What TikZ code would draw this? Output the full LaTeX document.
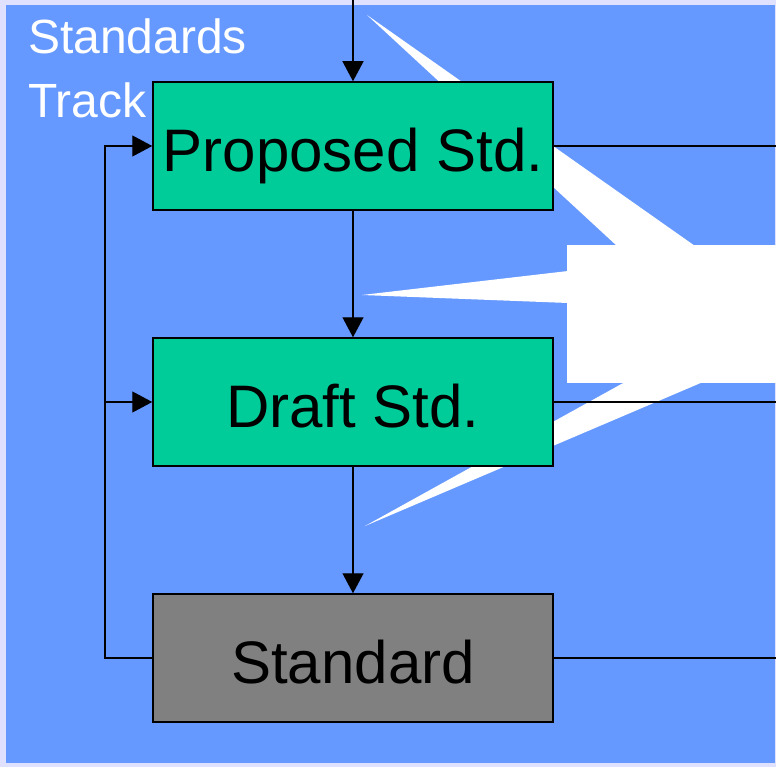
\documentclass[tikz,border=0pt]{standalone}
\usepackage{fontspec}
\setmainfont{Liberation Sans}
\usetikzlibrary{arrows.meta}
\definecolor{bgblue}{HTML}{6699FF}
\definecolor{lav}{HTML}{E0E0FF}
\definecolor{boxgreen}{HTML}{00CC99}
\definecolor{boxgray}{HTML}{808080}
\tikzset{
  stdbox/.style={draw=black, line width=1.5pt, minimum width=400pt, minimum height=128pt,
    inner sep=0pt, text height=51pt, text depth=0pt, font=\fontsize{60}{72}\selectfont},
  conn/.style={draw=black, line width=1.3pt},
  arr/.style={conn, -{Triangle[length=20pt,width=21pt]}},
  titletext/.style={text=white, font=\fontsize{48}{58}\selectfont, inner sep=0pt, anchor=base west}
}
\begin{document}
\begin{tikzpicture}[x=1pt,y=-1pt]
\useasboundingbox (0,0) rectangle (776,767);
\fill[lav] (0,0) rectangle (776,767);
\fill[bgblue] (6,5) rectangle (775,763);
% white callout shape
\fill[white] (567,245) rectangle (776,383);
\fill[white] (367,15) -- (617,246) -- (695,246) -- cycle;
\fill[white] (362,295) -- (568,271) -- (568,303) -- cycle;
\fill[white] (365,526) -- (625,382) -- (703,382) -- cycle;
% title
\node[titletext] (t1) at (28,54) {Standards};
\node[titletext] (t2) at (28,118) {Track};
% boxes
\node[stdbox, fill=boxgreen] (prop) at (353,146) {Proposed Std.};
\node[stdbox, fill=boxgreen] (draft) at (353,402) {Draft Std.};
\node[stdbox, fill=boxgray] (std) at (353,658) {Standard};
% coordinates
\coordinate (topin) at (353,0);
\coordinate (lx) at (105,146);
\coordinate (rx) at (776,0);
% connectors
\draw[arr] (topin) -- (prop.north);
\draw[arr] (prop.south) -- (draft.north);
\draw[arr] (draft.south) -- (std.north);
\draw[arr] (std.west) -- (std.west -| lx) -- (lx) -- (prop.west);
\draw[arr] (draft.west -| lx) -- (draft.west);
\draw[conn] (prop.east) -- (prop.east -| rx);
\draw[conn] (draft.east) -- (draft.east -| rx);
\draw[conn] (std.east) -- (std.east -| rx);
\end{tikzpicture}
\end{document}
